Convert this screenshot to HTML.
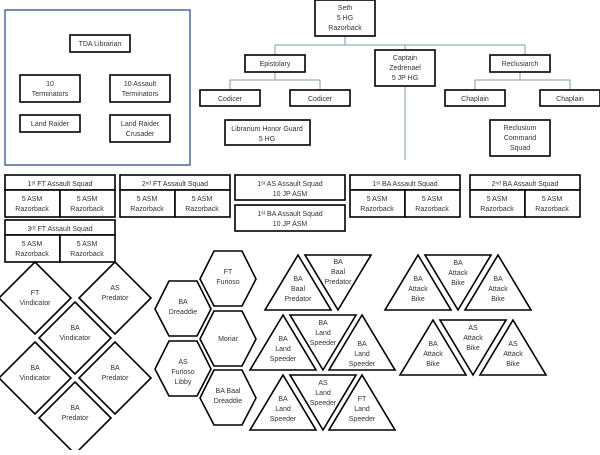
<!DOCTYPE html><html><head><style>body{margin:0;background:#fff}svg text{font-family:"Liberation Sans",sans-serif;font-size:7px;fill:#333;text-anchor:middle}</style></head><body>
<svg width="600" height="450" viewBox="0 0 600 450" xmlns="http://www.w3.org/2000/svg">
<g fill="none" stroke="#7f9aae" stroke-width="1">
<path d="M345 36V45M275 45H525M275 45V55M405 45V50M525 45V55M275 72V80M230 80H320M230 80V90M320 80V90M520 72V80M475 80H570M475 80V90M570 80V90M405 86V160"/>
</g>
<rect x="5" y="10" width="185" height="155" fill="none" stroke="#4a6a95" stroke-width="1.5"/>
<g fill="#fff" stroke="#000" stroke-width="1.6">
<rect x="70" y="35" width="60" height="17"/><rect x="20" y="75" width="60" height="27"/><rect x="110" y="75" width="60" height="27"/><rect x="20" y="115" width="60" height="17"/><rect x="110" y="115" width="60" height="27"/>
<rect x="315" y="0" width="60" height="36"/><rect x="245" y="55" width="60" height="17"/><rect x="375" y="50" width="60" height="36"/><rect x="490" y="55" width="60" height="17"/>
<rect x="200" y="90" width="60" height="16"/><rect x="290" y="90" width="60" height="16"/><rect x="225" y="120" width="85" height="25"/>
<rect x="445" y="90" width="60" height="16"/><rect x="540" y="90" width="60" height="16"/><rect x="490" y="120" width="60" height="36"/>
<rect x="5" y="175" width="110" height="15"/><rect x="5" y="190" width="55" height="27"/><rect x="60" y="190" width="55" height="27"/>
<rect x="120" y="175" width="110" height="15"/><rect x="120" y="190" width="55" height="27"/><rect x="175" y="190" width="55" height="27"/>
<rect x="235" y="175" width="110" height="25"/><rect x="235" y="205" width="110" height="26"/>
<rect x="350" y="175" width="110" height="15"/><rect x="350" y="190" width="55" height="27"/><rect x="405" y="190" width="55" height="27"/>
<rect x="470" y="175" width="110" height="15"/><rect x="470" y="190" width="55" height="27"/><rect x="525" y="190" width="55" height="27"/>
<rect x="5" y="220" width="110" height="15"/><rect x="5" y="235" width="55" height="27"/><rect x="60" y="235" width="55" height="27"/>
<path d="M35 262L71 298L35 334L-1 298Z"/><path d="M115 262L151 298L115 334L79 298Z"/><path d="M75 302L111 338L75 374L39 338Z"/><path d="M35 342L71 378L35 414L-1 378Z"/><path d="M115 342L151 378L115 414L79 378Z"/><path d="M75 382L111 418L75 454L39 418Z"/>
<path d="M214 251H242L256 279L242 306H214L200 279Z"/><path d="M169 281H197L211 309L197 336H169L155 309Z"/><path d="M214 311H242L256 339L242 366H214L200 339Z"/><path d="M169 341H197L211 369L197 396H169L155 369Z"/><path d="M214 370H242L256 398L242 425H214L200 398Z"/>
<path d="M298 255L331 310H265Z"/><path d="M305 255H371L338 310Z"/>
<path d="M283 315L316 370H250Z"/><path d="M290 315H356L323 370Z"/><path d="M362 315L395 370H329Z"/>
<path d="M283 375L316 430H250Z"/><path d="M290 375H356L323 430Z"/><path d="M362 375L395 430H329Z"/>
<path d="M398 255L431 310H385Z" style="display:none"/>
<path d="M418 255L451 310H385Z"/><path d="M425 255H491L458 310Z"/><path d="M498 255L531 310H465Z"/>
<path d="M433 320L466 375H400Z"/><path d="M440 320H506L473 375Z"/><path d="M513 320L546 375H480Z"/>
</g>
<text x="100" y="46">TDA Librarian</text>
<text x="50" y="86">10</text><text x="50" y="96">Terminators</text>
<text x="140" y="86">10 Assault</text><text x="140" y="96">Terminators</text>
<text x="50" y="126">Land Raider</text>
<text x="140" y="126">Land Raider</text><text x="140" y="136">Crusader</text>
<text x="345" y="10">Seth</text><text x="345" y="20">5 HG</text><text x="345" y="30">Razorback</text>
<text x="275" y="66">Epistolary</text>
<text x="405" y="60">Captain</text><text x="405" y="70">Zedrenael</text><text x="405" y="80">5 JP HG</text>
<text x="520" y="66">Reclusiarch</text>
<text x="230" y="101">Codicer</text><text x="320" y="101">Codicer</text>
<text x="267" y="131">Librarium Honor Guard</text><text x="267" y="141">5 HG</text>
<text x="475" y="101">Chaplain</text><text x="570" y="101">Chaplain</text>
<text x="520" y="130">Reclusium</text><text x="520" y="140">Command</text><text x="520" y="150">Squad</text>
<text x="60" y="186">1ˢᵗ FT Assault Squad</text><text x="175" y="186">2ⁿᵈ FT Assault Squad</text>
<text x="290" y="186">1ˢᵗ AS Assault Squad</text><text x="290" y="196">10 JP ASM</text>
<text x="290" y="216">1ˢᵗ BA Assault Squad</text><text x="290" y="226">10 JP ASM</text>
<text x="405" y="186">1ˢᵗ BA Assault Squad</text><text x="525" y="186">2ⁿᵈ BA Assault Squad</text>
<text x="60" y="231">3ʳᵈ FT Assault Squad</text>
<g>
<text x="32" y="201">5 ASM</text><text x="32" y="211">Razorback</text><text x="87" y="201">5 ASM</text><text x="87" y="211">Razorback</text>
<text x="147" y="201">5 ASM</text><text x="147" y="211">Razorback</text><text x="202" y="201">5 ASM</text><text x="202" y="211">Razorback</text>
<text x="377" y="201">5 ASM</text><text x="377" y="211">Razorback</text><text x="432" y="201">5 ASM</text><text x="432" y="211">Razorback</text>
<text x="497" y="201">5 ASM</text><text x="497" y="211">Razorback</text><text x="552" y="201">5 ASM</text><text x="552" y="211">Razorback</text>
<text x="32" y="246">5 ASM</text><text x="32" y="256">Razorback</text><text x="87" y="246">5 ASM</text><text x="87" y="256">Razorback</text>
</g>
<text x="35" y="295">FT</text><text x="35" y="305">Vindicator</text>
<text x="115" y="290">AS</text><text x="115" y="300">Predator</text>
<text x="75" y="330">BA</text><text x="75" y="340">Vindicator</text>
<text x="35" y="370">BA</text><text x="35" y="380">Vindicator</text>
<text x="115" y="370">BA</text><text x="115" y="380">Predator</text>
<text x="75" y="410">BA</text><text x="75" y="420">Predator</text>
<text x="228" y="274">FT</text><text x="228" y="284">Furioso</text>
<text x="183" y="304">BA</text><text x="183" y="314">Dreaddie</text>
<text x="228" y="341">Moriar</text>
<text x="183" y="364">AS</text><text x="183" y="374">Furioso</text><text x="183" y="384">Libby</text>
<text x="228" y="393">BA Baal</text><text x="228" y="403">Dreaddie</text>
<text x="298" y="281">BA</text><text x="298" y="291">Baal</text><text x="298" y="301">Predator</text>
<text x="338" y="264">BA</text><text x="338" y="274">Baal</text><text x="338" y="284">Predator</text>
<text x="283" y="341">BA</text><text x="283" y="351">Land</text><text x="283" y="361">Speeder</text>
<text x="323" y="325">BA</text><text x="323" y="335">Land</text><text x="323" y="345">Speeder</text>
<text x="362" y="346">BA</text><text x="362" y="356">Land</text><text x="362" y="366">Speeder</text>
<text x="283" y="401">BA</text><text x="283" y="411">Land</text><text x="283" y="421">Speeder</text>
<text x="323" y="385">AS</text><text x="323" y="395">Land</text><text x="323" y="405">Speeder</text>
<text x="362" y="401">FT</text><text x="362" y="411">Land</text><text x="362" y="421">Speeder</text>
<text x="418" y="281">BA</text><text x="418" y="291">Attack</text><text x="418" y="301">Bike</text>
<text x="458" y="265">BA</text><text x="458" y="275">Attack</text><text x="458" y="285">Bike</text>
<text x="498" y="281">BA</text><text x="498" y="291">Attack</text><text x="498" y="301">Bike</text>
<text x="433" y="346">BA</text><text x="433" y="356">Attack</text><text x="433" y="366">Bike</text>
<text x="473" y="330">AS</text><text x="473" y="340">Attack</text><text x="473" y="350">Bike</text>
<text x="513" y="346">AS</text><text x="513" y="356">Attack</text><text x="513" y="366">Bike</text>
</svg></body></html>
